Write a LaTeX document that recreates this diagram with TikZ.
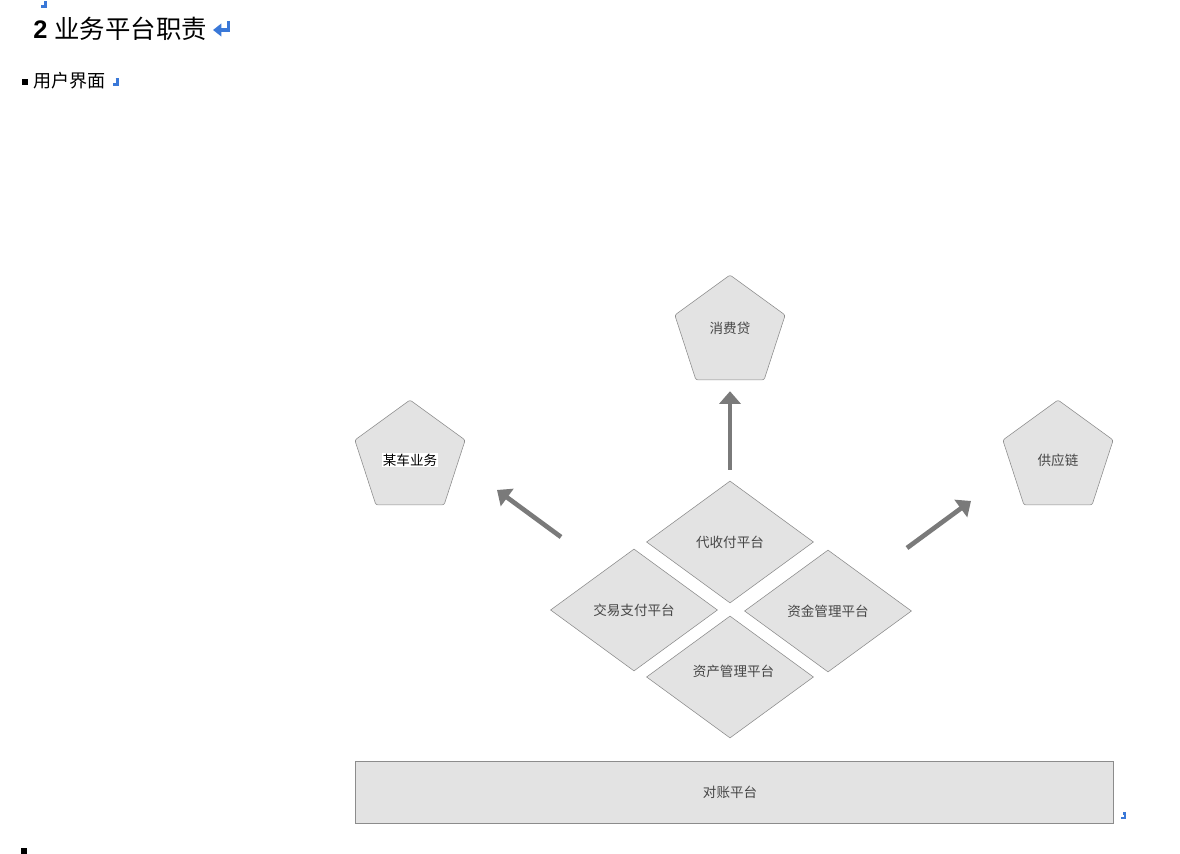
\documentclass[tikz,border=0pt]{standalone}
\usepackage{fontspec}
\setmainfont{Liberation Sans}
\newfontfamily\zhfont{Noto Sans CJK SC}
\usetikzlibrary{shapes.geometric,arrows.meta}

\definecolor{shapefill}{RGB}{227,227,227}
\definecolor{shapeline}{RGB}{140,140,140}
\definecolor{arrowgray}{RGB}{122,122,122}
\definecolor{labelgray}{RGB}{70,70,70}
\definecolor{markblue}{RGB}{58,120,216}
\def\pxl{0.7087pt}

\begin{document}
\begin{tikzpicture}[x=0.7087pt,y=-0.7087pt,
      pent/.style={regular polygon,regular polygon sides=5,draw=shapeline,fill=shapefill,
        minimum size=116*\pxl,inner sep=0pt,rounded corners=1.5pt},
      dia/.style={diamond,draw=shapeline,fill=shapefill,inner sep=0pt,
        minimum width=167*\pxl,minimum height=122*\pxl},
      bar/.style={rectangle,draw=shapeline,fill=shapefill,inner sep=0pt,
        minimum width=758*\pxl,minimum height=62*\pxl},
      every label/.style={font=\zhfont\fontsize{9.6}{11}\selectfont,text=labelgray,inner sep=0pt},
      fat/.style={arrowgray,line width=3.3pt,-{Triangle[length=9pt,width=15pt]}},
      brk/.style={markblue,line width=1.6pt}]

  \useasboundingbox (0,0) rectangle (1180,854);

  % heading and bullet lines
  \draw[brk] (44,2.5) -- (45.5,2.5) -- (45.5,6.5) -- (41,6.5);
  \node[anchor=west,inner sep=0pt] (title) at (33,29)
    {\fontsize{18}{20}\selectfont\textbf{2} \zhfont 业务平台职责};
  \coordinate (ret0) at (228.5,21);
  \coordinate (ret1) at (213,30);
  \draw[markblue,line width=2.2pt,-{Triangle[length=6pt,width=9pt]}] (ret0) |- (ret1);

  \fill (22,79) rectangle (28,85);
  \node[anchor=west,inner sep=0pt] (ui) at (33,81)
    {\zhfont\fontsize{12.8}{14}\selectfont 用户界面};
  \draw[brk] (115.5,79.5) -- (117.5,79.5) -- (117.5,84.5) -- (112.5,84.5);

  % businesses
  \node[pent,label={[yshift=3.3pt]center:消费贷}] (xiaofei) at (730,333) {};
  \node[pent,label={[yshift=-1.4pt,text=black]center:%
    {\setlength{\fboxsep}{0.4pt}\colorbox{white}{某车业务}}}] (mouche) at (410,458) {};
  \node[pent,label={[yshift=-2pt]center:供应链}] (gongying) at (1058,458) {};

  % platforms
  \node[dia,label=center:代收付平台] (daishou) at (730,542) {};
  \node[dia,label=center:交易支付平台] (jiaoyi) at (634,610) {};
  \node[dia,label=center:资金管理平台] (zijin) at (828,611) {};
  \node[dia,label={[xshift=2.5pt,yshift=4.2pt]center:资产管理平台}] (zichan) at (730,677) {};

  \node[bar,label={[xshift=-2.8pt]center:对账平台}] (duizhang) at (734,792) {};
  \draw[brk] (1123,813.5) -- (1125,813.5) -- (1125,818) -- (1120.5,818);

  % arrows
  \coordinate (l0) at (561,537);
  \coordinate (l1) at (497,490);
  \coordinate (r0) at (907,548);
  \coordinate (r1) at (971,501);
  \draw[fat,shorten <=11*\pxl,shorten >=11*\pxl] (daishou.north) -- (xiaofei.south);
  \draw[fat] (l0) -- (l1);
  \draw[fat] (r0) -- (r1);

  \fill (21,848) rectangle (27,854);
\end{tikzpicture}
\end{document}
